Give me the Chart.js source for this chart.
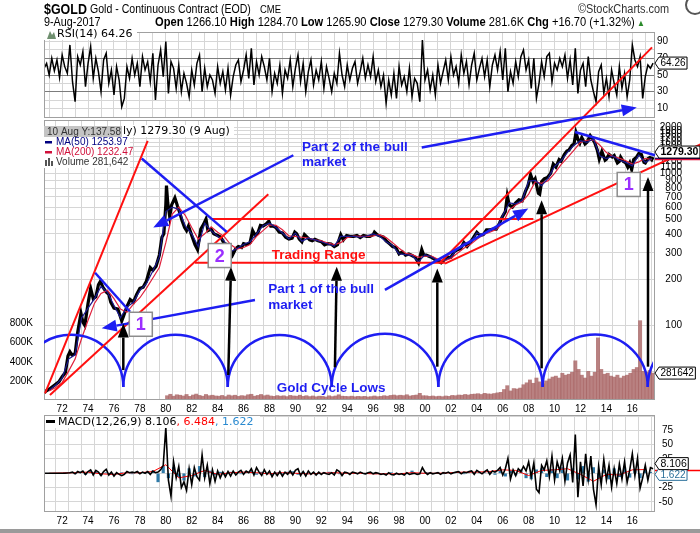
<!DOCTYPE html>
<html>
<head>
<meta charset="utf-8">
<script src="https://cdn.jsdelivr.net/npm/chart.js@4.4.1/dist/chart.umd.min.js"></script>
<style>
  body { margin: 0; background: #fff; }
  #wrap { position: relative; width: 700px; height: 533px; overflow: hidden; font-family: "Liberation Sans", Arial, sans-serif; }
  canvas { position: absolute; left: 0; top: 0; }
  .t { position: absolute; white-space: nowrap; z-index: 5; color: #000; transform-origin: 0 0; }
</style>
</head>
<body>
<div id="wrap">
  <canvas id="rsi" width="700" height="533" style="z-index:1"></canvas>
  <canvas id="macd" width="700" height="533" style="z-index:1"></canvas>
  <canvas id="price" width="700" height="533" style="z-index:2"></canvas>

  <div class="t" style="left:44px;top:0px;font-size:15px;font-weight:bold;transform:scaleX(0.83);">$GOLD</div>
  <div class="t" style="left:90px;top:2px;font-size:12px;transform:scaleX(0.88);">Gold - Continuous Contract (EOD)</div>
  <div class="t" style="left:260px;top:3px;font-size:10.5px;transform:scaleX(0.9);">CME</div>
  <div class="t" style="left:578px;top:2px;font-size:12px;color:#333;transform:scaleX(0.91);">&copy;StockCharts.com</div>
  <div class="t" style="left:44px;top:15px;font-size:12px;transform:scaleX(0.9);">9-Aug-2017</div>
  <div class="t" style="left:155px;top:15px;font-size:12.5px;transform:scaleX(0.89);"><b>Open</b> 1266.10 <b>High</b> 1284.70 <b>Low</b> 1265.90 <b>Close</b> 1279.30 <b>Volume</b> 281.6K <b>Chg</b> +16.70 (+1.32%)<span style="color:#2a8a2a;font-size:9px;"> &#9650;</span></div>
  <div class="t" style="left:685px;top:-5px;width:16px;height:16px;border:2px solid #555;border-radius:50%;"></div>
  <div class="t" style="left:0;top:529px;width:700px;height:4px;background:#9a9a9a;"></div>
</div>

<script>
// ---- price (weekly close) ----
const priceDates = [
  1970.6, 1970.75,
  1971.0, 1971.25, 1971.5, 1971.75,
  1972.0, 1972.25, 1972.45, 1972.6, 1972.75,
  1973.0, 1973.2, 1973.45, 1973.6, 1973.75,
  1974.0, 1974.2, 1974.4, 1974.6, 1974.8, 1974.95,
  1975.15, 1975.4, 1975.6, 1975.75,
  1976.0, 1976.3, 1976.6, 1976.75,
  1977.0, 1977.25, 1977.5, 1977.75,
  1978.0, 1978.25, 1978.5, 1978.8,
  1979.0, 1979.25, 1979.5, 1979.7, 1979.85,
  1980.0, 1980.05, 1980.15, 1980.3, 1980.45, 1980.7, 1980.9,
  1981.05, 1981.25, 1981.45, 1981.6, 1981.75,
  1982.0, 1982.25, 1982.45, 1982.7, 1982.9,
  1983.1, 1983.25, 1983.5, 1983.7,
  1984.0, 1984.25, 1984.5, 1984.75,
  1985.0, 1985.15, 1985.4, 1985.6, 1985.85,
  1986.0, 1986.25, 1986.5, 1986.7, 1986.9,
  1987.1, 1987.3, 1987.5, 1987.75, 1987.95,
  1988.1, 1988.3, 1988.5, 1988.75,
  1989.0, 1989.25, 1989.5, 1989.75, 1989.95,
  1990.1, 1990.3, 1990.5, 1990.7, 1990.9,
  1991.1, 1991.3, 1991.5, 1991.75,
  1992.0, 1992.25, 1992.5, 1992.75,
  1993.0, 1993.25, 1993.5, 1993.7, 1993.95,
  1994.2, 1994.5, 1994.75,
  1995.0, 1995.25, 1995.5, 1995.75,
  1996.0, 1996.1, 1996.3, 1996.6, 1996.8,
  1997.0, 1997.25, 1997.5, 1997.75,
  1998.0, 1998.25, 1998.5, 1998.75,
  1999.0, 1999.25, 1999.5, 1999.75, 1999.9,
  2000.1, 2000.3, 2000.5, 2000.75,
  2001.0, 2001.25, 2001.5, 2001.75,
  2002.0, 2002.25, 2002.5, 2002.75,
  2003.0, 2003.25, 2003.5, 2003.75,
  2004.0, 2004.25, 2004.5, 2004.75,
  2005.0, 2005.25, 2005.5, 2005.75, 2005.95,
  2006.2, 2006.35, 2006.5, 2006.75,
  2007.0, 2007.25, 2007.5, 2007.75, 2007.95,
  2008.15, 2008.35, 2008.5, 2008.75, 2008.85,
  2009.0, 2009.2, 2009.45, 2009.7, 2009.9,
  2010.1, 2010.35, 2010.5, 2010.75, 2010.95,
  2011.1, 2011.35, 2011.5, 2011.65, 2011.8, 2011.95,
  2012.1, 2012.35, 2012.5, 2012.75, 2012.95,
  2013.1, 2013.3, 2013.45, 2013.65, 2013.9,
  2014.0, 2014.2, 2014.45, 2014.6, 2014.85,
  2015.0, 2015.1, 2015.3, 2015.5, 2015.65, 2015.8, 2015.95,
  2016.1, 2016.3, 2016.5, 2016.7, 2016.9,
  2017.0, 2017.2, 2017.35, 2017.5, 2017.6
];
const priceClose = [
  36, 37,
  38, 39.5, 41, 42.5,
  46, 49, 63, 67, 64,
  65, 90, 120, 105, 100,
  140, 175, 150, 154, 185, 195,
  178, 166, 160, 142,
  130, 128, 107, 116,
  133, 148, 142, 160,
  175, 178, 195, 240,
  230, 245, 290, 380, 400,
  620, 830, 640, 520, 620, 690, 610,
  560, 490, 440, 420, 450,
  390, 340, 315, 430, 460,
  500, 420, 430, 400,
  390, 380, 345, 340,
  310, 290, 320, 330, 325,
  345, 340, 350, 420, 390,
  405, 455, 450, 465, 485,
  450, 450, 440, 410,
  405, 380, 370, 375, 410,
  400, 370, 355, 395, 380,
  365, 360, 368, 360,
  355, 338, 345, 343,
  330, 340, 395, 365, 390,
  385, 385, 390,
  378, 390, 385, 385,
  395, 410, 395, 385, 380,
  360, 345, 330, 325,
  295, 305, 290, 295,
  288, 280, 258, 315, 290,
  290, 285, 280, 272,
  265, 258, 270, 280,
  280, 305, 315, 320,
  350, 330, 350, 380,
  410, 390, 395, 425,
  425, 430, 430, 470, 515,
  560, 710, 620, 600,
  640, 670, 660, 760, 830,
  980, 880, 920, 740, 730,
  880, 920, 940, 1000, 1150,
  1100, 1230, 1200, 1330, 1400,
  1420, 1530, 1560, 1850, 1680, 1580,
  1720, 1560, 1600, 1770, 1670,
  1590, 1420, 1240, 1390, 1220,
  1240, 1330, 1280, 1310, 1170,
  1200, 1280, 1200, 1170, 1100, 1170, 1060,
  1230, 1270, 1350, 1330, 1180,
  1170, 1250, 1270, 1230, 1279.3
];

// ---- moving averages, half-yearly from 1971.0 ----
const ma50 = [
  37.5, 40.5, 45, 60, 64, 112, 130, 150, 180, 165,
  135, 112, 132, 142, 170, 188, 228, 282, 560, 600,
  580, 450, 400, 330, 470, 420, 385, 360, 305, 320,
  340, 355, 400, 452, 470, 440, 405, 370, 405, 358,
  375, 365, 355, 343, 332, 385, 385, 385, 380, 387,
  400, 385, 355, 335, 295, 292, 288, 262, 292, 282,
  266, 268, 282, 318, 348, 348, 405, 395, 428, 430,
  530, 640, 630, 665, 890, 900, 830, 930, 1110, 1210,
  1380, 1530, 1640, 1600, 1680, 1300, 1250, 1300, 1220, 1180,
  1120, 1320, 1180, 1254
];
const ma200 = [
  37, 39, 42, 50, 60, 82, 108, 140, 162, 170,
  150, 128, 122, 138, 152, 175, 205, 240, 350, 540,
  600, 530, 440, 370, 400, 445, 410, 385, 340, 318,
  325, 340, 385, 420, 458, 455, 425, 388, 385, 380,
  375, 365, 360, 348, 340, 350, 378, 386, 385, 385,
  388, 395, 378, 350, 322, 298, 292, 280, 285, 286,
  272, 266, 275, 298, 322, 340, 368, 395, 410, 428,
  470, 575, 620, 650, 730, 880, 860, 895, 1000, 1140,
  1270, 1420, 1600, 1650, 1660, 1530, 1370, 1290, 1260, 1210,
  1150, 1190, 1255, 1232
];

// ---- volume (K), quarterly from 1980.1 ----
const volume = [
  45, 60, 40, 55,   50, 42, 58, 38,   52, 62, 48, 40,   58, 45, 50, 42,
  40, 48, 36, 52,   44, 50, 38, 46,   42, 55, 60, 40,   48, 58, 45, 52,
  42, 38, 46, 40,   44, 36, 48, 42,   40, 50, 38, 45,   36, 42, 34, 40,
  38, 32, 44, 36,   42, 55, 40, 38,   36, 40, 34, 38,   35, 38, 32, 36,
  42, 35, 38, 45,   40, 48, 52, 45,   50, 46, 55, 42,   48, 52, 70, 45,
  44, 38, 42, 36,   40, 35, 42, 38,   48, 45, 52, 50,   58, 52, 60, 62,
  66, 58, 70, 64,   62, 68, 75, 80,   110, 150, 95, 120, 115, 125, 160, 180,
  210, 175, 230, 190, 170, 200, 220, 240, 250, 230, 280, 260, 270, 290, 410, 320,
  260, 230, 300, 250, 290, 650, 320, 270, 280, 250, 240, 260, 230, 250, 260, 280,
  320, 340, 830, 300, 290, 310, 281.642
];

// ---- RSI(14), five readings a year from 1970.6 ----
const rsi = [
  58, 64, 50, 70, 55,   68, 47, 74, 60, 52,   86, 42, 18, 72, 62,   78, 36, 64, 84, 46,
  70, 54, 30, 68, 76,   40, 56, 26, 60, 44,   12, 22, 60, 46, 70,   50, 64, 36, 72, 56,
  66, 42, 76, 20, 62,   80, 48, 90, 28, 66,   58, 34, 62, 30, 52,   40, 24, 56, 38, 64,
  74, 30, 58, 36, 50,   44, 28, 60, 40, 54,   32, 58, 26, 48, 62,   68, 42, 56, 74, 46,
  82, 38, 66, 50, 72,   60, 44, 70, 30, 52,   40, 62, 28, 56, 46,   68, 36, 58, 74, 42,
  64, 30, 54, 68, 38,   56, 44, 66, 34, 60,   46, 30, 52, 40, 76,   50, 36, 62, 44, 58,
  66, 40, 54, 70, 46,   62, 48, 72, 42, 56,   36, 50, 16, 44, 26,   52, 22, 60, 38, 48,
  30, 58, 24, 46, 40,   18, 92, 44, 56, 32,   50, 26, 62, 40, 54,   68, 44, 72, 50, 60,
  40, 74, 52, 66, 38,   62, 76, 44, 58, 70,   48, 68, 36, 62, 74,   56, 78, 44, 82, 30,
  54, 40, 66, 48, 72,   80, 56, 68, 34, 70,   22, 40, 66, 48, 72,   76, 42, 64, 56, 70,
  60, 74, 46, 68, 38,   82, 28, 56, 64, 36,   72, 44, 30, 18, 54,   62, 28, 46, 24, 56,
  40, 26, 60, 34, 52,   24, 44, 86, 68, 60,   72, 22, 48, 62, 58,   64.26
];

// ---- MACD(12,26,9), five readings a year from 1970.6 ----
const macd = [
  0, 0, 0, 0, 0,        0, 0, 0, 0, 0.5,      1, 2, -1, 3, 1,       4, -2, 3, 6, -3,
  5, 2, -4, 3, 7,       -3, 2, -5, 1, -2,     -4, -2, 3, 1, 2,      1, 3, -1, 2, 0,
  3, -2, 4, 1, 2,       6, 14, 80, -12, -40,  20, -8, 12, -25, -15, -30, 8, -20, 10, -6,
  -12, 32, -8, 14, -18, 6, -14, 4, -8, 2,     -6, 3, -5, 4, -3,     2, 5, -2, 4, 1,
  8, -3, 10, 2, -4,     6, -2, 4, -6, 2,      -4, 3, -5, 2, -2,     4, -3, 5, 8, -4,
  3, -5, 4, -2, 2,      -3, 2, -2, 1, -1,     -2, 1, -3, 6, 3,      -4, 2, 1, -2, 2,
  1, -1, 2, 0, -1,      1, 2, -1, 1, 0,       -2, -1, -3, 1, -2,    -3, 0, -2, -1, -3,
  1, -2, -1, 0, -2,     -1, 10, 2, -2, 1,     -1, 0, 1, -2, 1,      0, 2, -1, 1, 2,
  3, -1, 2, 1, 3,       4, -2, 5, 2, -1,      3, 6, -2, 4, 2,       5, 10, -3, 8, 26,
  -10, 6, -4, 8, 3,     12, 4, 20, -6, 18,    -28, -34, 14, 6, 22,  -6, 30, -12, 20, 4,
  26, -14, 18, 32, -16, 68, -42, 20, -22, 34, -10, 30, -28, -55, 12, -20, 24, -12, 14, -24,
  8, -18, 16, -10, 20,  -16, 6, 34, -4, 26,   -26, -8, 14, -12, 10, 8.106
];
// signal line, yearly from 1971
const macdSignal = [
  0, 0.5, 1, 2, -1, -2, 1, 1, 3, 15, -8, -4, 5, -2, 1, 2, 1, -1, 1, 0,
  -1, 0, 1, 0, 0, -1, -1, -1, 1, 0, 0, 1, 2, 2, 3, 6, 5, -4, 5, 6,
  8, -2, -14, -2, -3, 6, 6.484
];
// histogram, every 0.4 year from 1970.6
const macdHist = [
  0, 0, 0, 0, 0.5,    1, -1, 2, -2, 3,    2, -3, 1, -2, -1,   1, 1, -1, 2, 1,
  2, 4, -15, 12, -8,  10, -6, -12, 8, -5, 12, -6, 4, -3, 2,   -2, 2, 1, -1, 3,
  3, -2, 2, -1, -2,   1, -2, 2, 3, -2,    2, -1, 1, -1, 1,    2, 1, -1, 1, 0,
  0, 1, -1, 1, -1,    -1, -1, 1, -1, 0,   -1, 4, -1, 0, 1,    0, 1, -1, 1, 1,
  2, -1, 2, 1, 2,     1, 3, -2, 6, -5,    4, -3, 6, -8, -10,  6, 8, -6, 7, -8,
  10, -12, 8, -10, 12, -14, 10, -8, 6, -10, 8, -6, 10, -7, 6, -8, 5, 1.622
];

// ---- ticks ----
const yearTicks = [];
for (let y = 1971; y <= 2017; y++) yearTicks.push(y);
const priceTicks = [50, 100, 200, 300, 400, 500, 600, 700, 800, 900, 1000,
  1100, 1200, 1300, 1400, 1500, 1600, 1700, 1800, 1900, 2000];
const volTicks = [200, 400, 600, 800];
const rsiTicks = [10, 20, 30, 40, 50, 60, 70, 80, 90];
const macdTicks = [-50, -25, 0, 25, 50, 75, 100];

// ---- annotations, in (year, price) ----
const redLines = [
  [1970.68, 35.7, 1978.60, 1633],
  [1971.06, 34.8, 1987.91, 729],
  [1983.54, 500, 2008.36, 500],
  [1982.25, 258, 2001.54, 258],
  [2001.16, 258, 2017.52, 6737],
  [2001.54, 255, 2021.4, 1570]
];
const blueLines = [ // x1, y1, x2, y2, arrowhead
  [1974.54, 222, 1977.24, 123, false],
  [1978.14, 1251, 1984.70, 412, false],
  [2011.58, 1871, 2017.75, 1315, false],
  [1996.91, 171, 2007.97, 587, true],
  [1989.84, 1315, 1979.03, 440, true],
  [1999.75, 1477, 2016.34, 2706, true],
  [1986.88, 147, 1975.05, 95.6, true]
];
const upArrows = [
  [1976.72, 50.8, 1976.72, 102.8],
  [1984.82, 47.2, 1985.03, 243],
  [1993.05, 53, 1993.19, 243],
  [2000.95, 53.5, 2000.95, 237],
  [2009.0, 52.2, 2009.0, 666],
  [2017.21, 53.5, 2017.21, 947]
];
const cycleLows = [1976.72, 1984.78, 1992.80, 2001.03, 2009.08, 2017.19];
const cycleBase = 39.3;
const waveBoxes = [['1', 1978.07, 101.7], ['2', 1984.16, 288], ['1', 2015.72, 845]];
const notes = [
  ['Part 2 of the bull', 1990.51, 1484, 'blue'],
  ['market', 1990.51, 1183, 'blue'],
  ['Part 1 of the bull', 1987.91, 173, 'blue'],
  ['market', 1987.91, 136, 'blue'],
  ['Gold Cycle Lows', 1988.56, 38.6, 'blue'],
  ['Trading Range', 1988.17, 290, 'red']
];

const X0 = 1970.6, X1 = 2017.75;
const BLUE = '#1e1ef2', RED = '#ff1010', GRID = '#d6d6d6';
const FONT = '"Liberation Sans", Arial, sans-serif';
const VFONT = '"DejaVu Sans", Verdana, sans-serif';

Chart.defaults.font.family = FONT;
Chart.defaults.font.size = 10;
Chart.defaults.color = '#000';

const pts = (xs, ys) => xs.map((x, i) => ({ x, y: ys[i] }));
const rsiDates = rsi.map((_, i) => X0 + i * 0.2);
const macdDates = macd.map((_, i) => X0 + i * 0.2);
const histDates = macdHist.map((_, i) => X0 + i * 0.4);
const signalDates = macdSignal.map((_, i) => 1971 + i);
const maDates = ma50.map((_, i) => 1971 + i * 0.5);
const volDates = volume.map((_, i) => 1980.1 + i * 0.25);

function xAxis(showLabels) {
  return {
    type: 'linear', min: X0, max: X1, offset: false,
    afterBuildTicks: a => { a.ticks = yearTicks.map(v => ({ value: v })); },
    grid: { color: GRID, drawTicks: false },
    border: { display: false },
    ticks: {
      display: showLabels, autoSkip: false, maxRotation: 0, padding: 3,
      callback: v => (v % 2 === 0 ? String(v).slice(2) : '')
    },
    afterFit: s => { s.height = showLabels ? 15 : 0; }
  };
}

const framePlugin = {
  id: 'frame',
  afterDraw(chart) {
    const { ctx, chartArea: a } = chart;
    ctx.save();
    ctx.strokeStyle = '#a0a0a0';
    ctx.lineWidth = 1;
    ctx.strokeRect(Math.round(a.left) + 0.5, Math.round(a.top) + 0.5,
      Math.round(a.right - a.left) - 1, Math.round(a.bottom - a.top) - 1);
    ctx.restore();
  }
};

function valueBox(ctx, x, y, text, font, stroke, color) {
  ctx.font = font;
  const w = ctx.measureText(text).width + 3, h = 12;
  ctx.beginPath();
  ctx.moveTo(x, y);
  ctx.lineTo(x + 4, y - h / 2);
  ctx.lineTo(x + 4 + w, y - h / 2);
  ctx.lineTo(x + 4 + w, y + h / 2);
  ctx.lineTo(x + 4, y + h / 2);
  ctx.closePath();
  ctx.fillStyle = '#fff';
  ctx.fill();
  ctx.strokeStyle = stroke;
  ctx.lineWidth = 1;
  ctx.stroke();
  ctx.fillStyle = color;
  ctx.textAlign = 'left';
  ctx.textBaseline = 'middle';
  ctx.fillText(text, x + 5.5, y + 0.5);
}

function arrow(ctx, x1, y1, x2, y2, hl, hw) {
  const a = Math.atan2(y2 - y1, x2 - x1);
  const bx = x2 - hl * Math.cos(a), by = y2 - hl * Math.sin(a);
  ctx.beginPath();
  ctx.moveTo(x1, y1);
  ctx.lineTo(bx, by);
  ctx.stroke();
  ctx.beginPath();
  ctx.moveTo(x2, y2);
  ctx.lineTo(bx + hw / 2 * Math.sin(a), by - hw / 2 * Math.cos(a));
  ctx.lineTo(bx - hw / 2 * Math.sin(a), by + hw / 2 * Math.cos(a));
  ctx.closePath();
  ctx.fill();
}

// all hand-drawn marks on the price panel
const overlayPlugin = {
  id: 'overlay',
  afterDraw(chart) {
    const { ctx, chartArea: a } = chart;
    const X = v => chart.scales.x.getPixelForValue(v);
    const Y = v => chart.scales.y.getPixelForValue(v);
    ctx.save();

    // cycle arcs
    ctx.save();
    ctx.beginPath();
    ctx.rect(a.left, a.top, X(priceDates[priceDates.length - 1]) - a.left, a.bottom - a.top);
    ctx.clip();
    ctx.strokeStyle = BLUE;
    ctx.lineWidth = 2.5;
    const lows = cycleLows.map(X);
    const n = lows.length;
    const cusps = [2 * lows[0] - lows[1], ...lows, 2 * lows[n - 1] - lows[n - 2]];
    const by = Y(cycleBase);
    for (let i = 0; i < cusps.length - 1; i++) {
      const cx = (cusps[i] + cusps[i + 1]) / 2, r = (cusps[i + 1] - cusps[i]) / 2;
      ctx.beginPath();
      ctx.arc(cx, by, r, Math.PI, 2 * Math.PI);
      ctx.stroke();
    }
    ctx.restore();

    // red trend lines
    ctx.strokeStyle = RED;
    ctx.lineWidth = 2;
    redLines.forEach(l => {
      ctx.beginPath();
      ctx.moveTo(X(l[0]), Y(l[1]));
      ctx.lineTo(X(l[2]), Y(l[3]));
      ctx.stroke();
    });

    // blue lines / arrows
    ctx.strokeStyle = BLUE;
    ctx.fillStyle = BLUE;
    ctx.lineWidth = 2.5;
    blueLines.forEach(l => {
      if (l[4]) {
        arrow(ctx, X(l[0]), Y(l[1]), X(l[2]), Y(l[3]), 15, 12);
      } else {
        ctx.beginPath();
        ctx.moveTo(X(l[0]), Y(l[1]));
        ctx.lineTo(X(l[2]), Y(l[3]));
        ctx.stroke();
      }
    });

    // black arrows at cycle lows
    ctx.strokeStyle = '#000';
    ctx.fillStyle = '#000';
    ctx.lineWidth = 2.5;
    upArrows.forEach(l => arrow(ctx, X(l[0]), Y(l[1]), X(l[2]), Y(l[3]), 14, 11));

    // wave count boxes
    waveBoxes.forEach(b => {
      const x = X(b[1]), y = Y(b[2]);
      ctx.fillStyle = '#fff';
      ctx.fillRect(x - 11.5, y - 12, 23, 24);
      ctx.strokeStyle = '#8c8c8c';
      ctx.lineWidth = 1.5;
      ctx.strokeRect(x - 11.5, y - 12, 23, 24);
      ctx.fillStyle = '#9b30ff';
      ctx.font = 'bold 18px ' + FONT;
      ctx.textAlign = 'center';
      ctx.textBaseline = 'middle';
      ctx.fillText(b[0], x, y + 1);
    });

    // notes
    ctx.font = 'bold 13.5px ' + FONT;
    ctx.textAlign = 'left';
    ctx.textBaseline = 'middle';
    notes.forEach(t => {
      ctx.fillStyle = t[3] === 'red' ? RED : BLUE;
      ctx.fillText(t[0], X(t[1]), Y(t[2]));
    });

    // legend, top-left
    ctx.fillStyle = '#fff';
    ctx.fillRect(122, 125, 112, 12);
    ctx.fillRect(44, 137, 86, 31);
    ctx.fillStyle = '#c4c4c4';
    ctx.fillRect(44, 126, 78, 11);
    ctx.fillStyle = '#333';
    ctx.font = '10px ' + FONT;
    ctx.fillText('10 Aug Y:137.58', 47, 132);
    ctx.fillStyle = '#000';
    ctx.font = '11px ' + VFONT;
    ctx.fillText('ly) 1279.30 (9 Aug)', 123, 131.5);
    ctx.font = '10px ' + FONT;
    ctx.fillStyle = '#000080';
    ctx.fillRect(45, 141, 7, 2.5);
    ctx.fillText('MA(50) 1253.97', 56, 142.5);
    ctx.fillStyle = '#d0103a';
    ctx.fillRect(45, 151, 7, 2.5);
    ctx.fillText('MA(200) 1232.47', 56, 152.5);
    ctx.fillStyle = '#555';
    ctx.fillRect(45, 160, 2, 6);
    ctx.fillRect(48, 158, 2, 8);
    ctx.fillRect(51, 161, 2, 5);
    ctx.fillStyle = '#333';
    ctx.fillText('Volume 281,642', 56, 162.5);

    // right-hand markers
    const r = a.right;
    ctx.lineWidth = 1.5;
    ctx.strokeStyle = '#000080';
    ctx.beginPath(); ctx.moveTo(r, Y(ma50[ma50.length - 1])); ctx.lineTo(700, Y(ma50[ma50.length - 1])); ctx.stroke();
    ctx.strokeStyle = '#e0103a';
    ctx.beginPath(); ctx.moveTo(r, Y(ma200[ma200.length - 1])); ctx.lineTo(700, Y(ma200[ma200.length - 1])); ctx.stroke();
    valueBox(ctx, r, Y(priceClose[priceClose.length - 1]) - 5, '1279.30', 'bold 10.5px ' + FONT, '#000', '#000');
    const vy = chart.scales.vol.getPixelForValue(volume[volume.length - 1]);
    valueBox(ctx, r, vy, '281642', '10px ' + FONT, '#000', '#000');
    ctx.restore();
  }
};

const rsiPlugin = {
  id: 'rsiLabels',
  afterDraw(chart) {
    const { ctx, chartArea: a } = chart;
    ctx.save();
    ctx.fillStyle = '#fff';
    ctx.fillRect(44, 29, 93, 11);
    ctx.fillStyle = '#6f8f6f';
    ctx.beginPath();
    ctx.moveTo(47, 39); ctx.lineTo(50, 31); ctx.lineTo(52, 35); ctx.lineTo(54, 32); ctx.lineTo(56, 39);
    ctx.closePath();
    ctx.fill();
    ctx.fillStyle = '#000';
    ctx.font = '11px ' + VFONT;
    ctx.textAlign = 'left';
    ctx.textBaseline = 'middle';
    ctx.fillText('RSI(14) 64.26', 57, 34.5);
    valueBox(ctx, a.right, chart.scales.y.getPixelForValue(rsi[rsi.length - 1]), '64.26', '10px ' + FONT, '#000', '#000');
    ctx.restore();
  }
};

const macdPlugin = {
  id: 'macdLabels',
  afterDraw(chart) {
    const { ctx, chartArea: a } = chart;
    const Y = v => chart.scales.y.getPixelForValue(v);
    ctx.save();
    ctx.fillStyle = '#fff';
    ctx.fillRect(45, 416, 215, 12);
    ctx.fillStyle = '#000';
    ctx.fillRect(46, 420, 9, 3);
    ctx.font = '11px ' + VFONT;
    ctx.textAlign = 'left';
    ctx.textBaseline = 'middle';
    let x = 58;
    [['MACD(12,26,9) 8.106', '#000'], [', 6.484', '#ff0000'], [', 1.622', '#2a8ad0']].forEach(p => {
      ctx.fillStyle = p[1];
      ctx.fillText(p[0], x, 422);
      x += ctx.measureText(p[0]).width;
    });
    ctx.lineWidth = 1.5;
    ctx.strokeStyle = '#ff0000';
    ctx.beginPath(); ctx.moveTo(a.right, Y(6.484) + 1); ctx.lineTo(700, Y(6.484) + 1); ctx.stroke();
    valueBox(ctx, a.right, Y(1.622) + 2, '1.622', '10px ' + FONT, '#2a6f9a', '#2a6f9a');
    valueBox(ctx, a.right, Y(macd[macd.length - 1]) - 5, '8.106', '10.5px ' + FONT, '#000', '#000');
    ctx.restore();
  }
};

// ---- RSI panel ----
new Chart(document.getElementById('rsi'), {
  type: 'line',
  data: { datasets: [{ data: pts(rsiDates, rsi), borderColor: '#000', borderWidth: 1.5, pointRadius: 0 }] },
  options: {
    responsive: false, animation: false, events: [],
    layout: { padding: { top: 32, bottom: 415, left: 44, right: 25 } },
    plugins: { legend: { display: false }, tooltip: { enabled: false } },
    scales: {
      x: xAxis(false),
      y: {
        position: 'right', min: -1.5, max: 101.5,
        afterBuildTicks: s => { s.ticks = rsiTicks.map(v => ({ value: v })); },
        ticks: { autoSkip: false, padding: 2, crossAlign: 'near', callback: v => (v % 20 === 10 ? String(v) : '') },
        grid: { drawTicks: false, color: c => ([30, 50, 70].includes(c.tick && c.tick.value) ? '#7c7c7c' : GRID) },
        border: { display: false },
        afterFit: s => { s.width = 20; }
      }
    }
  },
  plugins: [framePlugin, rsiPlugin]
});

// ---- price panel ----
new Chart(document.getElementById('price'), {
  type: 'line',
  data: {
    datasets: [
      { label: 'MA(50)', data: pts(maDates, ma50), borderColor: '#1a1a90', borderWidth: 1.2, pointRadius: 0, order: 1 },
      { label: 'MA(200)', data: pts(maDates, ma200), borderColor: '#e0203c', borderWidth: 1.2, pointRadius: 0, order: 2 },
      { label: '$GOLD', data: pts(priceDates, priceClose), borderColor: '#000', borderWidth: 3.2, pointRadius: 0, order: 3 },
      { type: 'bar', label: 'Volume', data: pts(volDates, volume), yAxisID: 'vol', backgroundColor: 'rgba(168,98,98,0.8)', barThickness: 3.3, order: 5 }
    ]
  },
  options: {
    responsive: false, animation: false, events: [],
    layout: { padding: { top: 120, bottom: 118, left: 0, right: 18 } },
    plugins: { legend: { display: false }, tooltip: { enabled: false } },
    scales: {
      x: xAxis(true),
      y: {
        type: 'logarithmic', position: 'right', min: 32.3, max: 2243, bounds: 'data',
        afterBuildTicks: s => { s.ticks = priceTicks.map(v => ({ value: v })); },
        ticks: { autoSkip: false, crossAlign: 'far', callback: v => (v >= 100 ? String(v) : '') },
        grid: { drawTicks: false, color: GRID },
        border: { display: false },
        afterFit: s => { s.width = 27; }
      },
      vol: {
        type: 'linear', position: 'left', min: 0, max: 2930,
        afterBuildTicks: s => { s.ticks = volTicks.map(v => ({ value: v })); },
        ticks: { autoSkip: false, padding: 3, crossAlign: 'near', callback: v => v + 'K' },
        grid: { display: false },
        border: { display: false },
        afterFit: s => { s.width = 44; }
      }
    }
  },
  plugins: [framePlugin, overlayPlugin]
});

// ---- MACD panel ----
new Chart(document.getElementById('macd'), {
  type: 'line',
  data: {
    datasets: [
      { label: 'MACD', data: pts(macdDates, macd), borderColor: '#000', borderWidth: 1.6, pointRadius: 0, order: 1 },
      { label: 'Signal', data: pts(signalDates, macdSignal), borderColor: '#ff0000', borderWidth: 1, pointRadius: 0, order: 2 },
      { type: 'bar', label: 'Histogram', data: pts(histDates, macdHist), backgroundColor: '#2f7aa8', barThickness: 2.5, order: 3 }
    ]
  },
  options: {
    responsive: false, animation: false, events: [],
    layout: { padding: { top: 415, bottom: 6, left: 44, right: 27 } },
    plugins: { legend: { display: false }, tooltip: { enabled: false } },
    scales: {
      x: xAxis(true),
      y: {
        position: 'right', min: -67.8, max: 102,
        afterBuildTicks: s => { s.ticks = macdTicks.map(v => ({ value: v })); },
        ticks: { autoSkip: false, crossAlign: 'far', callback: v => (v === 0 || v === 100 ? '' : String(v)) },
        grid: { drawTicks: false, color: GRID },
        border: { display: false },
        afterFit: s => { s.width = 18; }
      }
    }
  },
  plugins: [framePlugin, macdPlugin]
});
</script>
</body>
</html>
